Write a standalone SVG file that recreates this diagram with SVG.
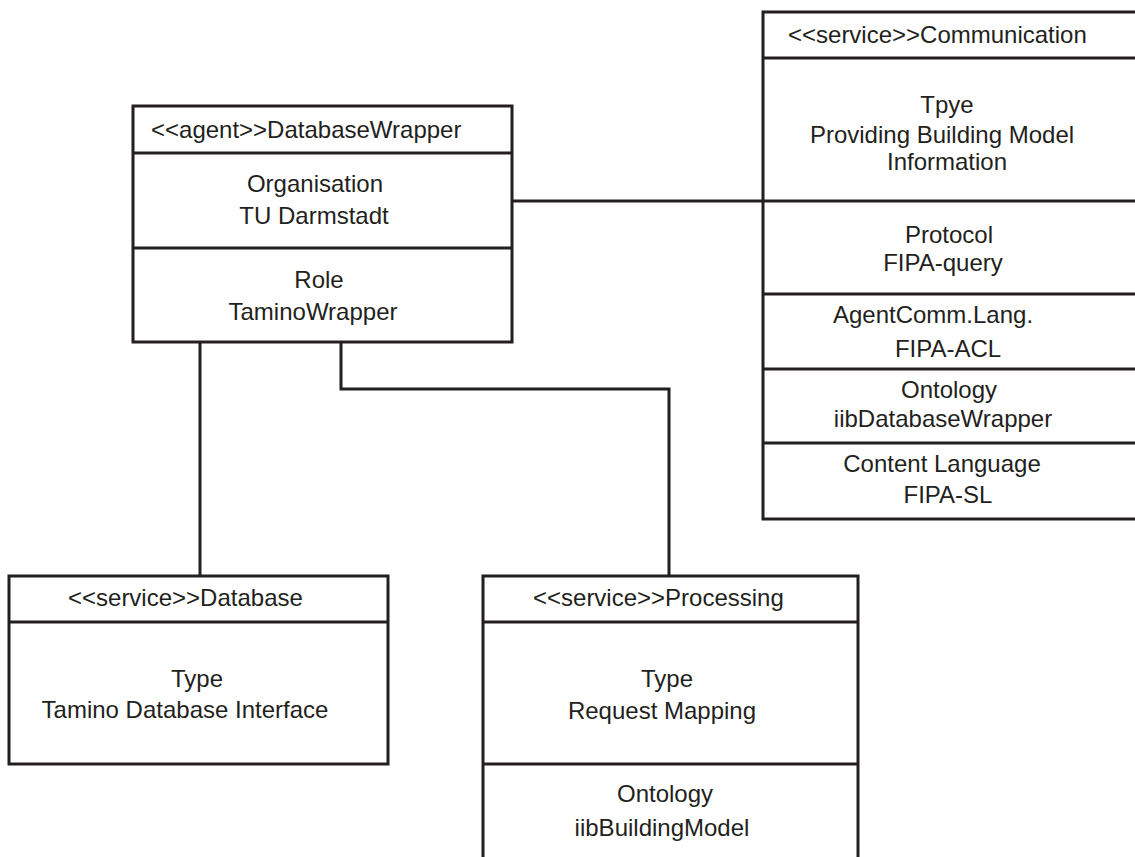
<svg xmlns="http://www.w3.org/2000/svg" width="1135" height="857" viewBox="0 0 1135 857">
<style>
.box{fill:#fff;stroke:#231f20;stroke-width:3}
.sep{stroke:#231f20;stroke-width:3}
.con{fill:none;stroke:#231f20;stroke-width:3}
text{font-family:"Liberation Sans",Arial,sans-serif;font-size:24px;fill:#231f20}
.c{text-anchor:middle}
</style>
<rect width="1135" height="857" fill="#fff"/>
<g id="connectors">
<path class="con" d="M512 201H763"/>
<path class="con" d="M200 342V576"/>
<path class="con" d="M341 342V389H669V576"/>
</g>
<g id="databaseWrapper">
<rect class="box" x="133" y="106" width="379" height="236"/>
<line class="sep" x1="133" y1="153" x2="512" y2="153"/>
<line class="sep" x1="133" y1="248" x2="512" y2="248"/>
<text x="151" y="138">&lt;&lt;agent&gt;&gt;DatabaseWrapper</text>
<text class="c" x="315" y="192">Organisation</text>
<text class="c" x="314" y="224">TU Darmstadt</text>
<text class="c" x="319" y="288">Role</text>
<text class="c" x="313" y="320">TaminoWrapper</text>
</g>
<g id="communication">
<rect class="box" x="763" y="12" width="390" height="507"/>
<line class="sep" x1="763" y1="58" x2="1140" y2="58"/>
<line class="sep" x1="763" y1="201" x2="1140" y2="201"/>
<line class="sep" x1="763" y1="294" x2="1140" y2="294"/>
<line class="sep" x1="763" y1="369" x2="1140" y2="369"/>
<line class="sep" x1="763" y1="443" x2="1140" y2="443"/>
<text x="788" y="43">&lt;&lt;service&gt;&gt;Communication</text>
<text class="c" x="947" y="113">Tpye</text>
<text class="c" x="942" y="143">Providing Building Model</text>
<text class="c" x="947" y="170">Information</text>
<text class="c" x="949" y="243">Protocol</text>
<text class="c" x="943" y="271">FIPA-query</text>
<text class="c" x="933" y="323">AgentComm.Lang.</text>
<text class="c" x="948" y="357">FIPA-ACL</text>
<text class="c" x="949" y="398">Ontology</text>
<text class="c" x="943" y="427">iibDatabaseWrapper</text>
<text class="c" x="942" y="472">Content Language</text>
<text class="c" x="948" y="503">FIPA-SL</text>
</g>
<g id="database">
<rect class="box" x="9" y="576" width="379" height="188"/>
<line class="sep" x1="9" y1="622" x2="388" y2="622"/>
<text x="68" y="606">&lt;&lt;service&gt;&gt;Database</text>
<text class="c" x="197" y="687">Type</text>
<text class="c" x="185" y="718">Tamino Database Interface</text>
</g>
<g id="processing">
<rect class="box" x="483" y="576" width="375" height="300"/>
<line class="sep" x1="483" y1="622" x2="858" y2="622"/>
<line class="sep" x1="483" y1="764" x2="858" y2="764"/>
<text x="533" y="606">&lt;&lt;service&gt;&gt;Processing</text>
<text class="c" x="667" y="687">Type</text>
<text class="c" x="662" y="719">Request Mapping</text>
<text class="c" x="665" y="802">Ontology</text>
<text class="c" x="662" y="836">iibBuildingModel</text>
</g>
</svg>
